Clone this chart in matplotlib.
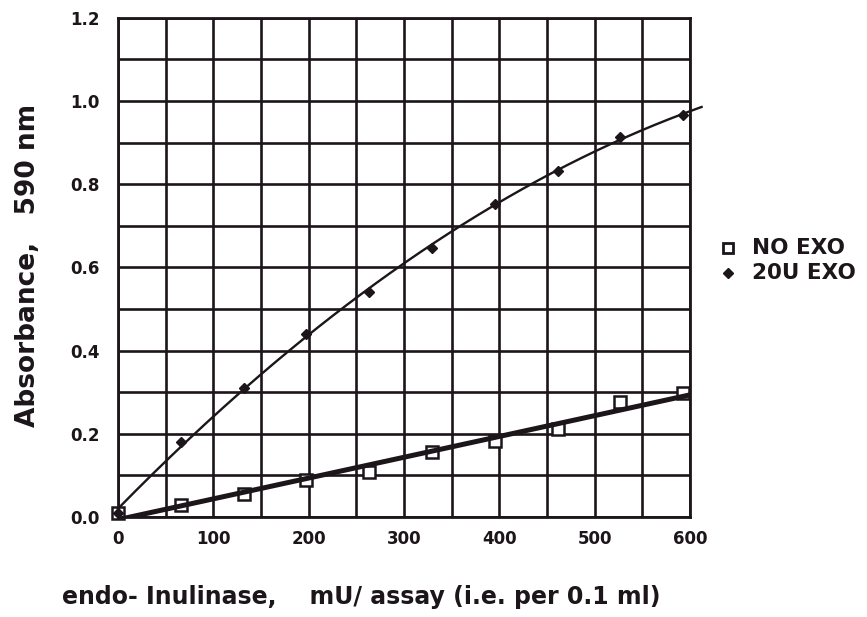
import numpy as np
import matplotlib
matplotlib.use('Agg')
import matplotlib.pyplot as plt
from matplotlib.lines import Line2D

# endo-inulinase dose (mU/assay)
dose = [0, 66, 132, 197, 263, 329, 395, 461, 526, 592]
no_exo = [0.01, 0.030, 0.056, 0.088, 0.108, 0.156, 0.184, 0.212, 0.276, 0.298]
exo_20u = [0.01, 0.18, 0.31, 0.44, 0.542, 0.647, 0.752, 0.831, 0.914, 0.967]

x_ticks = [0, 100, 200, 300, 400, 500, 600]
y_ticks = [0.0, 0.2, 0.4, 0.6, 0.8, 1.0, 1.2]

INK = '#1c1519'
plt.rcParams['font.family'] = ['DejaVu Sans']

fig = plt.figure(figsize=(8.67, 6.17), dpi=100)
ax = fig.add_axes([0.136, 0.162, 0.660, 0.809])

ax.set_xlim(0, 600)
ax.set_ylim(0, 1.2)
ax.set_xticks(np.arange(0, 601, 50), minor=True)
ax.set_yticks(np.arange(0, 1.21, 0.1), minor=True)
ax.set_xticks(x_ticks)
ax.set_yticks(y_ticks)
ax.set_xticklabels([str(v) for v in x_ticks], fontsize=12, fontweight='bold', color=INK)
ax.set_yticklabels([f'{v:.1f}' for v in y_ticks], fontsize=12, fontweight='bold', color=INK)
ax.grid(True, which='both', color=INK, linewidth=1.9)
ax.tick_params(which='both', length=0)
ax.tick_params(axis='x', pad=9)
ax.tick_params(axis='y', pad=13)
for s in ax.spines.values():
    s.set_linewidth(2.0)
    s.set_color(INK)

# fitted lines
lin = np.polyfit(dose, no_exo, 1)
ax.plot([0, 600], np.polyval(lin, [0, 600]), color=INK, lw=3.6, zorder=3,
        solid_capstyle='butt')
xs = np.linspace(0, 612, 200)
quad = np.polyfit(dose, exo_20u, 2)
ax.plot(xs, np.polyval(quad, xs), color=INK, lw=1.7, zorder=3, clip_on=False)

ax.plot(dose, no_exo, 's', ms=9.2, mfc='white', mec=INK, mew=1.8, zorder=2, clip_on=False)
ax.plot(dose, exo_20u, 'D', ms=5.5, color=INK, zorder=4, clip_on=False)

# legend
fig.add_artist(Line2D([0.840], [0.598], marker='s', ms=7, mfc='white', mec=INK,
                      mew=2.0, transform=fig.transFigure))
fig.add_artist(Line2D([0.840], [0.557], marker='D', ms=5, color=INK,
                      transform=fig.transFigure))
fig.text(0.867, 0.598, 'NO EXO', fontsize=15.5, fontweight='bold', va='center', color=INK)
fig.text(0.867, 0.557, '20U EXO', fontsize=15.5, fontweight='bold', va='center', color=INK)

fig.text(0.032, 0.57, 'Absorbance,   590 nm', rotation=90, fontsize=19,
         fontweight='bold', ha='center', va='center', color=INK)
fig.text(0.071, 0.032, 'endo- Inulinase,    mU/ assay (i.e. per 0.1 ml)',
         fontsize=17, fontweight='bold', ha='left', va='center', color=INK)

fig.savefig('out.png', dpi=100)
